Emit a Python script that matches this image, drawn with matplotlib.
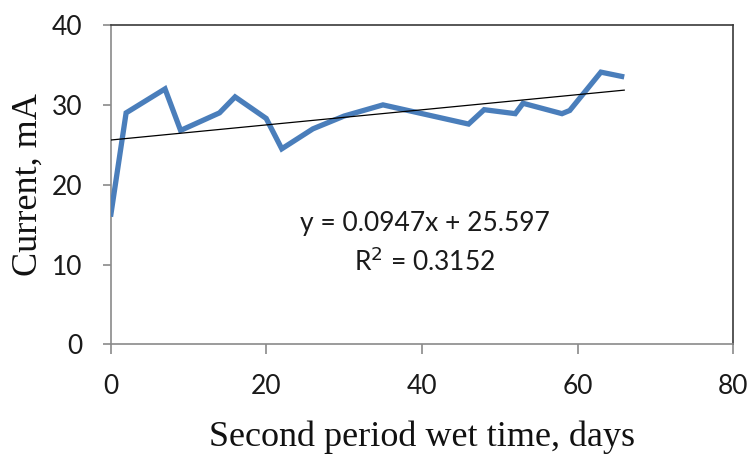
import numpy as np
import matplotlib
matplotlib.use("Agg")
import matplotlib.pyplot as plt

# measured current over the second wet period
days = [0, 2, 7, 9, 14, 16, 20, 22, 26, 30, 35, 46, 48, 52, 53, 58, 59, 63, 66]
current = [16.0, 29.0, 32.0, 26.8, 29.0, 31.0, 28.3, 24.5, 27.0, 28.6, 30.0,
           27.6, 29.4, 28.9, 30.2, 28.9, 29.3, 34.1, 33.5]

# linear trendline as reported
slope = 0.0947
intercept = 25.597
r_squared = 0.3152

x_ticks = [0, 20, 40, 60, 80]
y_ticks = [0, 10, 20, 30, 40]

sans = ['Lato', 'DejaVu Sans']
serif = ['Liberation Serif', 'DejaVu Serif']

fig = plt.figure(figsize=(7.52, 4.59), dpi=100)
ax = fig.add_axes([0.147, 0.2495, 0.828, 0.6960])

ax.plot(days, current, color='#4A7EBB', lw=3.8, solid_joinstyle='miter',
        solid_capstyle='butt', zorder=3)

fit_x = np.array([days[0], days[-1]])
ax.plot(fit_x, slope * fit_x + intercept, color='black', lw=0.9, zorder=4)

ax.text(0.505, 0.38, 'y = %.4fx + %.3f' % (slope, intercept),
        transform=ax.transAxes, ha='center', va='center',
        family=sans, fontsize=19, color='#1a1a1a')
ax.text(0.505, 0.258, 'R$^2$ = %.4f' % r_squared,
        transform=ax.transAxes, ha='center', va='center',
        family=sans, fontsize=19, color='#1a1a1a')

ax.set_xlim(0, 80)
ax.set_ylim(0, 40)
ax.set_xticks(x_ticks)
ax.set_yticks(y_ticks)

for lbl in ax.get_xticklabels() + ax.get_yticklabels():
    lbl.set_family(sans)
    lbl.set_fontsize(19)
    lbl.set_color('#1a1a1a')

ax.tick_params(axis='x', direction='out', length=7, width=1.2,
               color='#8a8a8a', pad=14)
ax.tick_params(axis='y', direction='out', length=6, width=1.2,
               color='#8a8a8a', pad=14)

ax.spines['left'].set_color('#8a8a8a')
ax.spines['bottom'].set_color('#8a8a8a')
ax.spines['top'].set_color('#3a3a3a')
ax.spines['right'].set_color('#3a3a3a')
for s in ax.spines.values():
    s.set_linewidth(1.2)

ax.set_xlabel('Second period wet time, days', family=serif, fontsize=26,
              labelpad=16, color='#111111')
ax.set_ylabel('Current, mA', family=serif, fontsize=26, labelpad=5,
              color='#111111')

fig.savefig('out.png', dpi=100)
